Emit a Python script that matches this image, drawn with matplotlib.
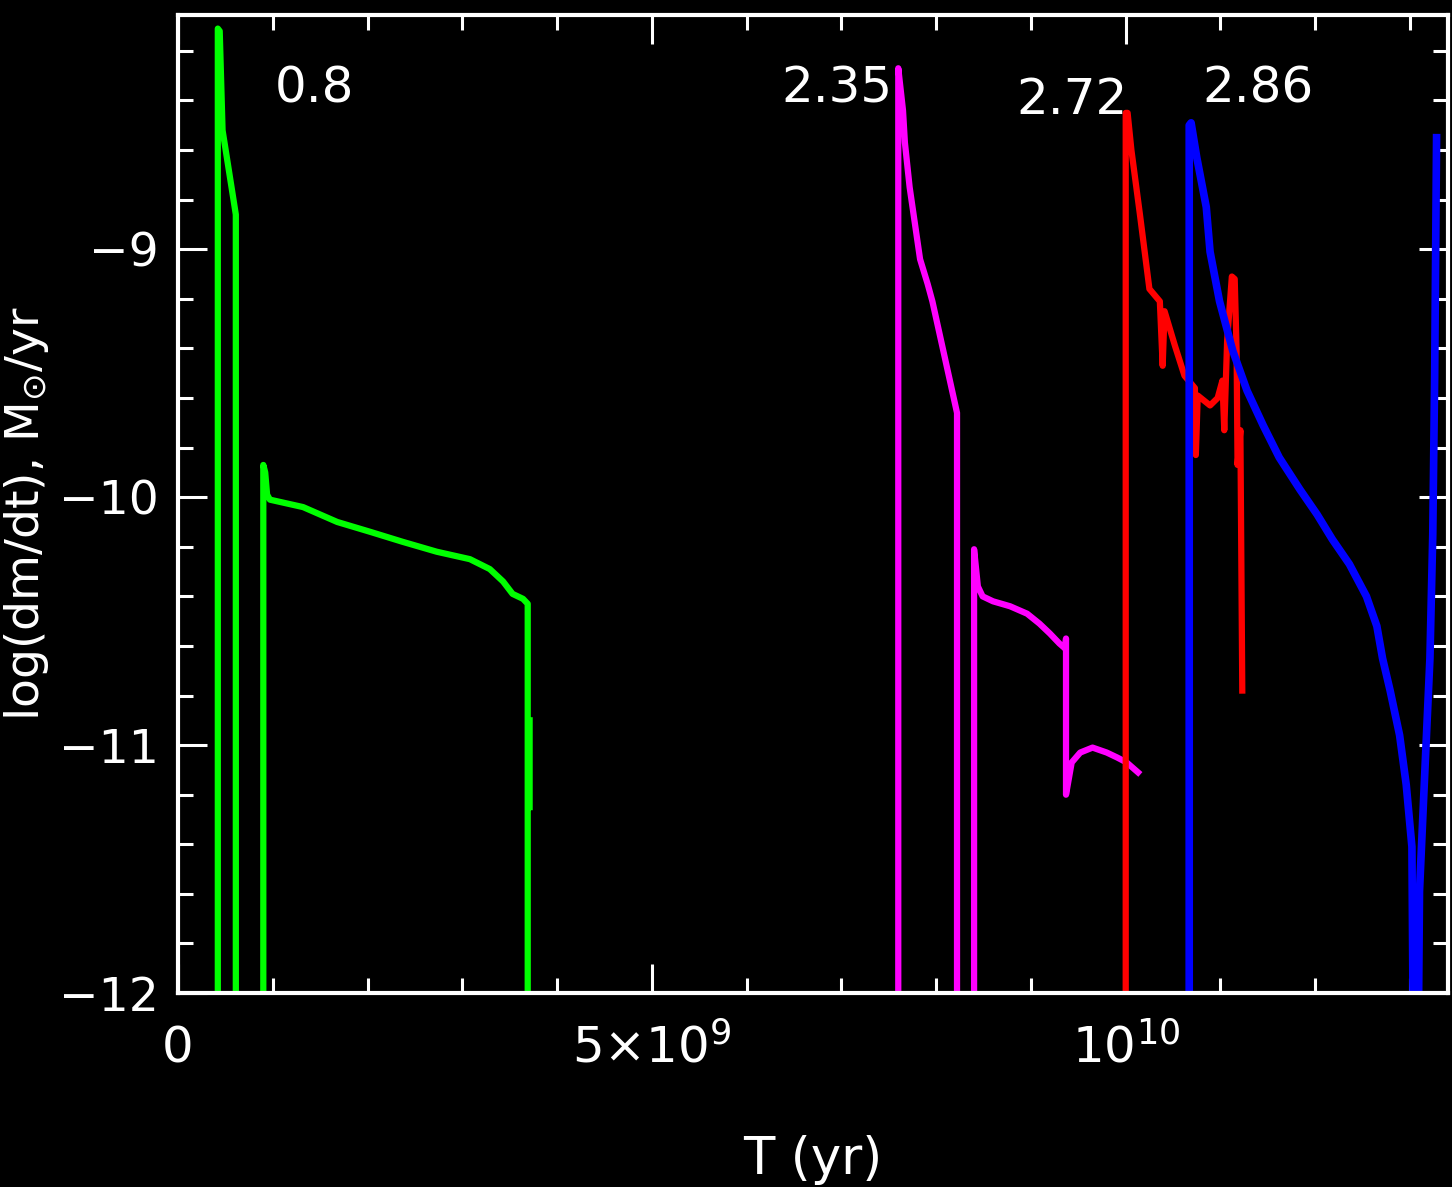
import numpy as np
import matplotlib
matplotlib.use('Agg')
import matplotlib.pyplot as plt
from matplotlib.ticker import FixedLocator, MultipleLocator

nan = np.nan

# time in Gyr, log mass-loss rate in Msun/yr (values below the axis run off the plot)
t_08 = [0.42, 0.42, 0.44, 0.47, 0.61, 0.61, 0.90, 0.90, 0.92, 0.94, 0.97, 1.32, 1.68,
        2.03, 2.37, 2.73, 3.08, 3.29, 3.43, 3.53, 3.64, 3.69, 3.69, nan, 3.71, 3.71]
m_08 = [-12.5, -8.11, -8.12, -8.52, -8.86, -12.5, -12.5, -9.87, -9.90, -9.99, -10.01,
        -10.04, -10.10, -10.14, -10.18, -10.22, -10.25, -10.29, -10.34, -10.39, -10.41,
        -10.43, -12.5, nan, -10.90, -11.25]

t_235 = [7.60, 7.60, 7.65, 7.67, 7.72, 7.83, 7.91, 7.96, 8.22, 8.22, 8.40, 8.40, 8.44,
         8.49, 8.60, 8.78, 8.96, 9.09, 9.20, 9.30, 9.36, 9.37, 9.37, 9.43, 9.52, 9.65,
         9.80, 9.91, 10.01, 10.13]
m_235 = [-12.5, -8.27, -8.44, -8.57, -8.75, -9.04, -9.14, -9.21, -9.66, -12.5, -12.5,
         -10.21, -10.36, -10.40, -10.42, -10.44, -10.47, -10.51, -10.55, -10.59, -10.61,
         -10.57, -11.20, -11.07, -11.03, -11.01, -11.03, -11.05, -11.07, -11.11]

t_272 = [10.00, 10.00, 10.02, 10.06, 10.15, 10.25, 10.36, 10.39, 10.41, 10.52, 10.62,
         10.73, 10.74, 10.76, 10.89, 10.97, 11.02, 11.04, 11.07, 11.12, 11.15, 11.17,
         11.18, 11.21, 11.23]
m_272 = [-12.5, -8.45, -8.45, -8.60, -8.86, -9.16, -9.21, -9.47, -9.25, -9.39, -9.51,
         -9.56, -9.83, -9.59, -9.63, -9.60, -9.53, -9.73, -9.37, -9.11, -9.12, -9.41,
         -9.87, -9.73, -10.78]

t_286 = [10.67, 10.67, 10.69, 10.75, 10.85, 10.89, 10.99, 11.13, 11.28, 11.45, 11.62,
         11.84, 12.02, 12.18, 12.36, 12.54, 12.65, 12.71, 12.79, 12.89, 12.96, 13.02,
         13.04, 13.08, 13.10, 13.15, 13.21, 13.24, 13.26, 13.28]
m_286 = [-12.5, -8.50, -8.49, -8.63, -8.83, -9.01, -9.21, -9.41, -9.57, -9.71, -9.84,
         -9.97, -10.07, -10.17, -10.27, -10.40, -10.52, -10.65, -10.78, -10.96, -11.16,
         -11.41, -12.5, -12.5, -11.59, -11.16, -10.65, -10.15, -9.51, -8.55]

mass_labels = ['0.8', '2.35', '2.72', '2.86']
x_ticks = [0, 5e9, 1e10]
x_ticklabels = ['0', r'$5{\times}10^{9}$', r'$10^{10}$']
y_ticks = [-12, -11, -10, -9]
y_ticklabels = ['\u221212', '\u221211', '\u221210', '\u22129']

plt.rcParams['mathtext.default'] = 'regular'
plt.rcParams['font.family'] = 'DejaVu Sans'

fig = plt.figure(figsize=(14.52, 11.87), dpi=100, facecolor='black')
ax = fig.add_axes([0.1226, 0.1634, 0.8746, 0.824])
ax.set_facecolor('black')

gyr = 1e9
ax.plot(np.array(t_08) * gyr, m_08, color='#00ff00', lw=4.5)
ax.plot(np.array(t_235) * gyr, m_235, color='#ff00ff', lw=4.5)
ax.plot(np.array(t_272) * gyr, m_272, color='#ff0000', lw=4.5)
ax.plot(np.array(t_286) * gyr, m_286, color='#0000ff', lw=5.5)

fs = 36
ax.text(1.02e9, -8.35, mass_labels[0], color='white', fontsize=fs, ha='left', va='center')
ax.text(6.95e9, -8.35, mass_labels[1], color='white', fontsize=fs, ha='center', va='center')
ax.text(9.43e9, -8.40, mass_labels[2], color='white', fontsize=fs, ha='center', va='center')
ax.text(11.40e9, -8.35, mass_labels[3], color='white', fontsize=fs, ha='center', va='center')

ax.set_xlim(0, 1.34e10)
ax.set_ylim(-12, -8.055)

ax.xaxis.set_major_locator(FixedLocator(x_ticks))
ax.xaxis.set_minor_locator(MultipleLocator(1e9))
ax.set_xticklabels(x_ticklabels)
ax.yaxis.set_major_locator(FixedLocator(y_ticks))
ax.yaxis.set_minor_locator(MultipleLocator(0.2))
ax.set_yticklabels(y_ticklabels, fontsize=34)

ax.tick_params(which='both', direction='in', top=True, right=True, color='white',
               labelcolor='white', width=2.2)
ax.tick_params(axis='x', labelsize=fs)
ax.tick_params(which='major', length=21)
ax.tick_params(which='minor', length=11)
ax.tick_params(axis='x', which='major', pad=50)
ax.tick_params(axis='y', which='major', pad=14)
for lab in ax.get_xticklabels():
    lab.set_verticalalignment('baseline')

for sp in ax.spines.values():
    sp.set_color('white')
    sp.set_linewidth(3)

ax.set_xlabel('T (yr)', color='white', fontsize=fs + 1)
ax.xaxis.set_label_coords(0.5, -0.145)
ax.set_ylabel(r'log(dm/dt), M$_{\odot}$/yr', color='white', fontsize=34)
ax.yaxis.set_label_coords(-0.1, 0.49)

fig.savefig('out.png', dpi=100, facecolor='black')
